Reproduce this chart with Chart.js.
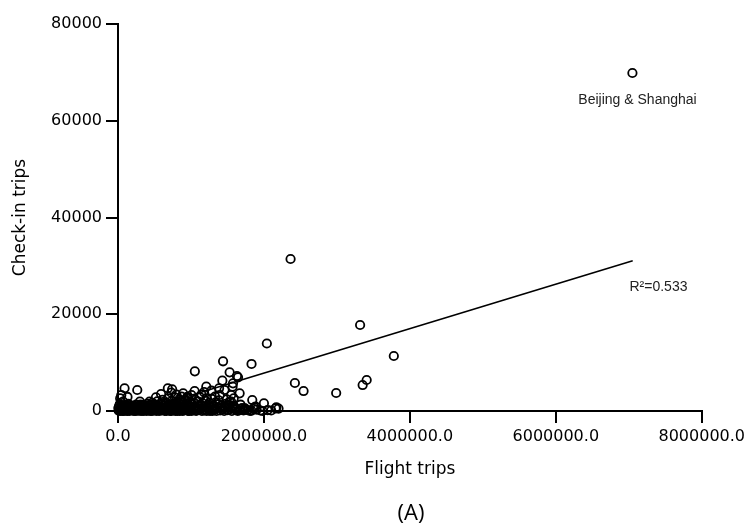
<!DOCTYPE html>
<html>
<head>
<meta charset="utf-8">
<script src="https://cdn.jsdelivr.net/npm/chart.js@4.4.0/dist/chart.umd.min.js"></script>
<style>
  html, body { margin: 0; padding: 0; background: #fff; }
  #wrap { width: 749px; height: 531px; }
</style>
</head>
<body>
<div id="wrap"><canvas id="chart" width="749" height="531"></canvas></div>
<script>
// axis ticks
const xTicks = [0, 2000000, 4000000, 6000000, 8000000];
const yTicks = [0, 20000, 40000, 60000, 80000];

// city pairs far from the origin: [flight trips, check-in trips]
const outliers = [
  [7050000, 69870], [2365000, 31420], [3318000, 17780], [3780000, 11370],
  [2040000, 13950], [1440000, 10270], [1830000, 9720], [1053000, 8200],
  [1530000, 7990], [1645000, 6960], [1430000, 6270], [1630000, 7230],
  [2424000, 5790], [2543000, 4130], [2990000, 3720], [3353000, 5370],
  [3408000, 6410]
];

// middle of the cloud
const midPairs = [
  [90000, 4700], [264000, 4340], [45000, 3310], [683000, 4700], [742000, 4480],
  [730000, 3790], [590000, 3510], [520000, 2830], [300000, 1930], [433000, 1930],
  [70000, 1930], [1210000, 5030], [1460000, 4340], [1570000, 5030], [1667000, 3650],
  [1586000, 2620], [1840000, 2270], [2000000, 1580], [1886000, 890], [2160000, 560],
  [1736000, 480], [1600000, 420], [1550000, 1930], [1576000, 5720], [1385000, 4690],
  [1280000, 4200], [1550000, 3310], [893000, 3650], [1007000, 3310], [1144000, 3380],
  [1394000, 3310], [800000, 3380], [1210000, 2620], [1530000, 1930], [1460000, 900],
  [1300000, 350], [1620000, 350], [984000, 1580], [1100000, 1930], [1870000, 760],
  [1740000, 550], [2170000, 760], [30000, 2600], [130000, 2900], [1180000, 3900],
  [1330000, 3000], [1050000, 4100], [950000, 2900], [1490000, 2400], [1680000, 1300]
];

// dense cluster near the origin
const clusterPairs = [
  [10000, 50], [20000, 200], [30000, 0], [40000, 400], [50000, 100], [60000, 800],
  [70000, 300], [80000, 0], [95000, 600], [100000, 150], [115000, 1200], [120000, 400],
  [130000, 50], [145000, 900], [150000, 250], [160000, 0], [175000, 700], [180000, 300],
  [190000, 1100], [205000, 100], [210000, 500], [220000, 0], [235000, 800], [240000, 300],
  [250000, 1300], [262000, 150], [270000, 600], [285000, 50], [290000, 1000], [300000, 350],
  [315000, 0], [320000, 700], [333000, 200], [340000, 1200], [352000, 450], [360000, 100],
  [372000, 900], [380000, 300], [392000, 0], [400000, 1500], [412000, 600], [420000, 200],
  [433000, 1100], [440000, 0], [455000, 800], [460000, 400], [470000, 1700], [482000, 100],
  [490000, 900], [503000, 300], [510000, 1300], [525000, 0], [530000, 600], [540000, 2000],
  [552000, 200], [560000, 1000], [573000, 500], [580000, 1500], [592000, 100], [600000, 800],
  [612000, 2300], [620000, 300], [633000, 1200], [640000, 0], [655000, 700], [660000, 1800],
  [672000, 400], [680000, 1000], [690000, 2600], [703000, 200], [710000, 1400], [722000, 600],
  [730000, 0], [740000, 2100], [752000, 900], [760000, 300], [773000, 1600], [780000, 2800],
  [792000, 500], [800000, 1100], [812000, 0], [820000, 1900], [833000, 700], [840000, 2400],
  [852000, 200], [860000, 1300], [870000, 3000], [882000, 600], [890000, 1700], [903000, 100],
  [910000, 2200], [922000, 900], [930000, 400], [940000, 1500], [952000, 2700], [960000, 0],
  [972000, 1100], [980000, 600], [990000, 2000], [1003000, 300], [1020000, 1400], [1040000, 800],
  [1060000, 2300], [1080000, 200], [1100000, 1000], [1120000, 2900], [1140000, 500], [1160000, 1600],
  [1180000, 100], [1200000, 2100], [1220000, 700], [1240000, 1300], [1260000, 0], [1280000, 2500],
  [1300000, 900], [1320000, 300], [1340000, 1800], [1360000, 600], [1380000, 2200], [1400000, 100],
  [1420000, 1200], [1440000, 400], [1480000, 1500], [1500000, 200], [1520000, 800], [1560000, 0],
  [1580000, 1100], [1620000, 300], [1660000, 150], [1700000, 600], [1780000, 200], [1830000, 50],
  [1900000, 300], [1950000, 100], [2050000, 200], [2200000, 500],
  [5000, 600], [15000, 1000], [25000, 1400], [35000, 700], [55000, 1100], [65000, 0],
  [85000, 500], [105000, 800], [125000, 0], [140000, 1500], [165000, 500], [185000, 800],
  [200000, 200], [225000, 1000], [245000, 0], [265000, 900], [280000, 400], [310000, 1300],
  [325000, 500], [345000, 0], [365000, 600], [385000, 1100], [405000, 200], [425000, 700],
  [445000, 1300], [465000, 0], [485000, 500], [500000, 1100], [520000, 400], [545000, 800],
  [565000, 0], [585000, 700], [605000, 300], [625000, 1600], [645000, 500], [665000, 0],
  [685000, 400], [700000, 900], [715000, 0], [735000, 1200], [755000, 200], [770000, 700],
  [785000, 0], [805000, 400], [825000, 1000], [845000, 0], [865000, 500], [885000, 0],
  [900000, 800], [915000, 300], [935000, 1100], [955000, 200], [975000, 0], [995000, 900],
  [1010000, 0], [1030000, 400], [1050000, 1600], [1070000, 0], [1090000, 600], [1110000, 300],
  [1130000, 1200], [1150000, 0], [1170000, 800], [1190000, 400], [1215000, 0], [1235000, 600],
  [1255000, 1700], [1275000, 200], [1295000, 0], [1315000, 1100], [1350000, 0], [1370000, 1400],
  [1410000, 600], [1455000, 0], [1470000, 700], [1510000, 1200], [1540000, 400], [1600000, 800],
  [1640000, 0], [1680000, 400], [1720000, 100], [1750000, 300], [1810000, 0], [1860000, 400],
  [1980000, 0], [2100000, 100]
];

// fitted line, read at its two ends
const fitX = [295000, 7054000];
const fitY = [0, 31070];

const pts = outliers.concat(midPairs, clusterPairs).map(p => ({x: p[0], y: p[1]}));
const fitLine = fitX.map((x, i) => ({x: x, y: fitY[i]}));

const notes = {
  id: 'notes',
  afterDatasetsDraw(chart){
    const ctx = chart.ctx, sx = chart.scales.x, sy = chart.scales.y;
    ctx.save();
    ctx.fillStyle = '#222';
    ctx.font = '14px "Liberation Sans", Arial, sans-serif';
    ctx.textBaseline = 'middle';
    ctx.textAlign = 'center';
    ctx.fillText('Beijing & Shanghai', sx.getPixelForValue(7120000), sy.getPixelForValue(64280));
    ctx.textAlign = 'left';
    ctx.fillText('R\u00b2=0.533', sx.getPixelForValue(7010000), sy.getPixelForValue(25600));
    ctx.fillStyle = '#000';
    ctx.font = '22px "Open Sans", sans-serif';
    ctx.textAlign = 'center';
    ctx.fillText('(A)', 411, 514);
    ctx.restore();
  }
};

const tickFont = {family: '"DejaVu Sans", sans-serif', size: 16};
const titleFont = {family: '"DejaVu Sans", sans-serif', size: 17};

new Chart(document.getElementById('chart'), {
  type: 'scatter',
  data: {
    datasets: [{
      data: pts,
      pointRadius: 4.2,
      pointBorderWidth: 1.8,
      borderColor: '#000',
      backgroundColor: 'rgba(0,0,0,0)',
      clip: false
    }, {
      type: 'line',
      data: fitLine,
      borderColor: '#000',
      borderWidth: 1.6,
      pointRadius: 0,
      fill: false
    }]
  },
  options: {
    responsive: false,
    animation: false,
    layout: {padding: {left: 0, right: 46, top: 24, bottom: 51}},
    plugins: {legend: {display: false}, tooltip: {enabled: false}},
    scales: {
      x: {
        type: 'linear', min: 0, max: 8000000,
        afterBuildTicks: s => { s.ticks = xTicks.map(v => ({value: v})); },
        afterFit: s => { s.height = 69; },
        ticks: {color: '#000', font: tickFont, maxRotation: 0, padding: 4, callback: v => v.toFixed(1)},
        grid: {drawOnChartArea: false, color: '#000', lineWidth: 2, tickLength: 12},
        border: {color: '#000', width: 2},
        title: {display: true, text: 'Flight trips', color: '#000', font: titleFont, padding: 0}
      },
      y: {
        type: 'linear', min: 0, max: 80000,
        afterBuildTicks: s => { s.ticks = yTicks.map(v => ({value: v})); },
        afterFit: s => { s.width = 118; },
        ticks: {color: '#000', font: tickFont, padding: 4, callback: v => String(v)},
        grid: {drawOnChartArea: false, color: '#000', lineWidth: 2, tickLength: 12},
        border: {color: '#000', width: 2},
        title: {display: true, text: 'Check-in trips', color: '#000', font: titleFont, padding: {top: 10, bottom: 0}}
      }
    }
  },
  plugins: [notes]
});
</script>
</body>
</html>
